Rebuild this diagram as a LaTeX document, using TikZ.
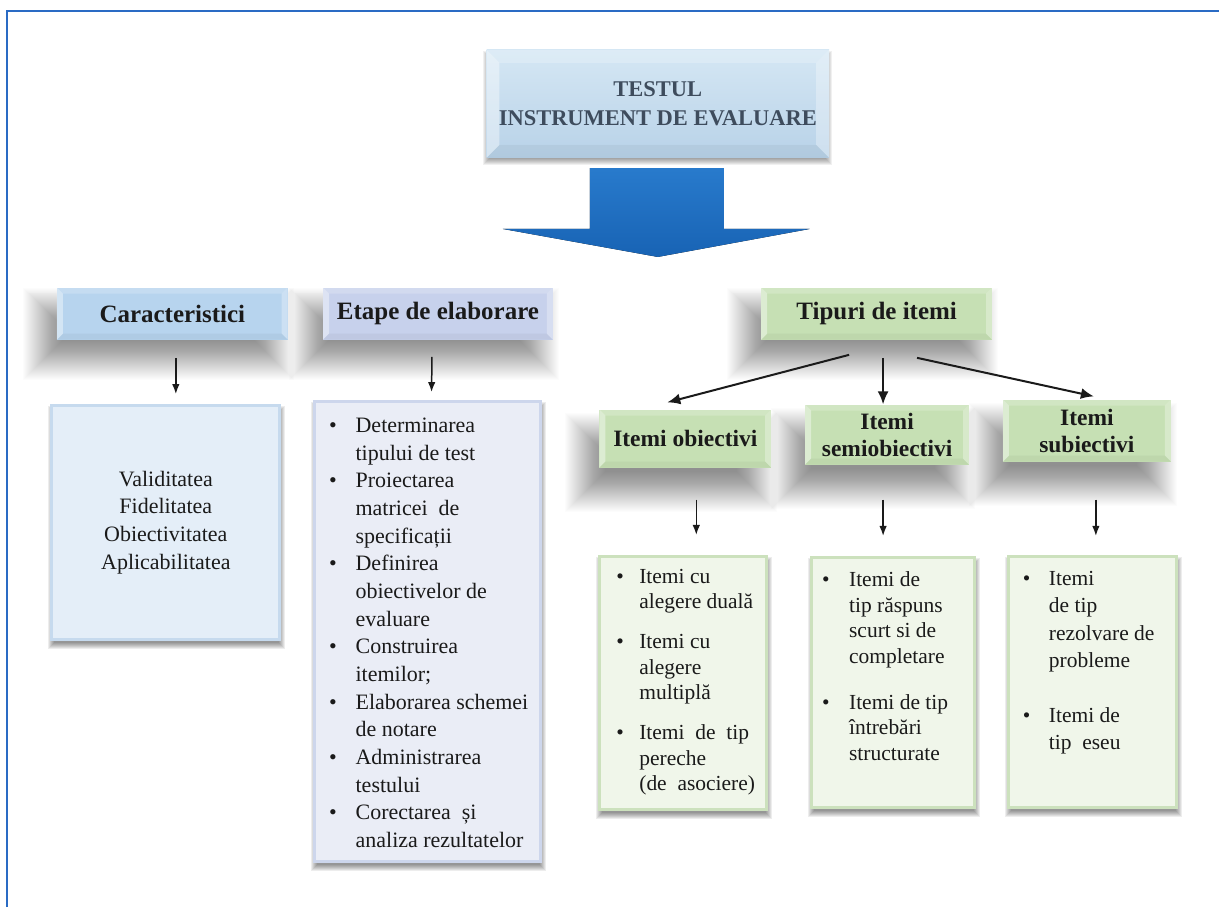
\documentclass[tikz,border=0pt]{standalone}
\usepackage{fontspec}
\setmainfont{Liberation Serif}
\usetikzlibrary{positioning,calc,arrows.meta,backgrounds}

\definecolor{framec}{HTML}{2A6BC4}
\definecolor{titletop}{HTML}{D5E7F4}
\definecolor{titlebot}{HTML}{B8D2E8}
\definecolor{titletext}{HTML}{3E4C5D}
\definecolor{arrowtop}{HTML}{2A7DCF}
\definecolor{arrowbot}{HTML}{1863B4}
\definecolor{carfill}{HTML}{B7D4EE}
\definecolor{etafill}{HTML}{C7D1EC}
\definecolor{tipfill}{HTML}{C6E0B4}
\definecolor{carin}{HTML}{E4EEF8}
\definecolor{carout}{HTML}{C6DAEE}
\definecolor{etain}{HTML}{EAEDF6}
\definecolor{etaout}{HTML}{CDD6EC}
\definecolor{tipin}{HTML}{F0F6EA}
\definecolor{tipout}{HTML}{CCE1BD}
\definecolor{inkc}{HTML}{1A1A1A}

% soft shadow under a node: node, dx, dy, spread, opacity of one layer
\newcommand{\softshadow}[5]{%
  \foreach \s in {-#4,...,#4}
    \fill[black, opacity=#5] ($(#1.north west)+(#2-\s,#3-\s)$) rectangle ($(#1.south east)+(#2+\s,#3+\s)$);
}

\begin{document}
\begin{tikzpicture}[x=1pt, y=-1pt,
    bevelbox/.style={path picture={
      \fill[white, opacity=0.4] (path picture bounding box.north west) -- (path picture bounding box.south west)
        -- ([xshift=#1, yshift=#1]path picture bounding box.south west) -- ([xshift=#1, yshift=-#1]path picture bounding box.north west) -- cycle;
      \fill[white, opacity=0.3] (path picture bounding box.north east) -- (path picture bounding box.south east)
        -- ([xshift=-#1, yshift=#1]path picture bounding box.south east) -- ([xshift=-#1, yshift=-#1]path picture bounding box.north east) -- cycle;
      \fill[white, opacity=0.2] (path picture bounding box.north west) -- (path picture bounding box.north east)
        -- ([xshift=-#1, yshift=-#1]path picture bounding box.north east) -- ([xshift=#1, yshift=-#1]path picture bounding box.north west) -- cycle;
      \fill[black, opacity=0.04] (path picture bounding box.south west) -- (path picture bounding box.south east)
        -- ([xshift=-#1, yshift=#1]path picture bounding box.south east) -- ([xshift=#1, yshift=#1]path picture bounding box.south west) -- cycle;
    }},
    header/.style={fill=#1, bevelbox=6pt, inner sep=0pt, align=center, text=inkc,
      font=\fontsize{25}{28}\selectfont\bfseries},
    subhead/.style={header=tipfill, font=\fontsize{23.5}{27}\selectfont\bfseries},
    contbox/.style={fill=#1in, draw=#1out, line width=3pt, inner sep=0pt, text=inkc,
      font=\fontsize{22}{27.7}\selectfont},
    thinarrow/.style={-{Latex[length=10pt, width=7.5pt]}, line width=1.5pt, inkc},
    widearrow/.style={-{Latex[length=13pt, width=11pt]}, line width=2pt, inkc}]

    % title and big arrow
    \node[top color=titletop, bottom color=titlebot, bevelbox=13pt, minimum width=343pt, minimum height=108pt,
      inner sep=0pt, align=center, text=titletext, font=\fontsize{22.5}{29}\selectfont\bfseries]
      (title) at (658.5,104) {TESTUL\\INSTRUMENT DE EVALUARE};
    \fill[top color=arrowtop, bottom color=arrowbot]
      (title.south) ++(-68,10) -- ++(134,0) -- ++(0,61) -- ++(86,0) -- ++(-152,28) -- ++(-155,-28) -- ++(87,0) -- cycle;

    % headers
    \node[header=carfill, minimum width=231pt, minimum height=52pt] (carH) at (172.5,314) {Caracteristici};
    \node[header=etafill, minimum width=230pt, minimum height=52pt, right=35pt of carH] (etaH) {Etape de elaborare};
    \node[header=tipfill, minimum width=231pt, minimum height=52pt] (tipH) at (877.5,314) {Tipuri de itemi};

    % contents of the left columns
    \node[contbox=car, minimum width=228pt, minimum height=234pt, align=center] (carC) at (166,523)
      {Validitatea\\Fidelitatea\\Obiectivitatea\\Aplicabilitatea};
    \node[contbox=eta, minimum width=226pt, minimum height=460pt] (etaC) at (428,632)
      {\parbox[c][460pt][t]{197pt}{\vspace{11.6pt}\begin{tabular}{@{}p{26.5pt}@{}l@{}}
        \textbullet & Determinarea\\
                    & tipului de test\\
        \textbullet & Proiectarea\\
                    & matricei\ \ de\\
                    & specificații\\
        \textbullet & Definirea\\
                    & obiectivelor de\\
                    & evaluare\\
        \textbullet & Construirea\\
                    & itemilor;\\
        \textbullet & Elaborarea schemei\\
                    & de notare\\
        \textbullet & Administrarea\\
                    & testului\\
        \textbullet & Corectarea\ \ și\\
                    & analiza rezultatelor
      \end{tabular}}};

    \draw[thinarrow] ($(carH.south)+(3.5,18)$) -- ($(carC.north)+(10,-10)$);
    \draw[thinarrow] ($(etaH.south)+(-6,17)$) -- ($(etaC.north)+(4,-8)$);

    % item types
    \node[subhead, minimum width=172pt, minimum height=58pt] (obiH) at (686,439) {Itemi obiectivi};
    \node[subhead, minimum width=164pt, minimum height=60pt] (semH) at (888,435) {Itemi\\semiobiectivi};
    \node[subhead, minimum width=168pt, minimum height=62pt] (subH) at (1088,431) {Itemi\\subiectivi};

    \draw[widearrow] ($(tipH.south)+(-27.5,15)$) -- ($(obiH.north)+(-18,-7)$);
    \draw[widearrow] ($(tipH.south)+(6.5,18)$) -- ($(semH.north)+(-4,0)$);
    \draw[widearrow] ($(tipH.south)+(40.5,18)$) -- ($(subH.north)+(7,-3)$);

    \node[contbox=tip, minimum width=167pt, minimum height=253pt, font=\fontsize{21.5}{25.5}\selectfont] (obiC) at (683.5,683.5)
      {\parbox[c][253pt][t]{133pt}{\vspace{9pt}\begin{tabular}{@{}p{23pt}@{}l@{}}
        \textbullet & Itemi cu\\
                    & alegere duală\\[14.5pt]
        \textbullet & Itemi cu\\
                    & alegere\\
                    & multiplă\\[14.5pt]
        \textbullet & Itemi\ \ de\ \ tip\\
                    & pereche\\
                    & (de\ \ asociere)
      \end{tabular}}};
    \node[contbox=tip, minimum width=163pt, minimum height=250pt, font=\fontsize{21.5}{25.7}\selectfont] (semC) at (893.5,683)
      {\parbox[c][250pt][t]{141pt}{\vspace{11pt}\begin{tabular}{@{}p{27pt}@{}l@{}}
        \textbullet & Itemi de\\
                    & tip răspuns\\
                    & scurt si de\\
                    & completare\\[20pt]
        \textbullet & Itemi de tip\\
                    & întrebări\\
                    & structurate
      \end{tabular}}};
    \node[contbox=tip, minimum width=168pt, minimum height=251pt, font=\fontsize{21.5}{27.5}\selectfont] (subC) at (1094,682.5)
      {\parbox[c][251pt][t]{140pt}{\vspace{9.75pt}\begin{tabular}{@{}p{26pt}@{}l@{}}
        \textbullet & Itemi\\
                    & de tip\\
                    & rezolvare de\\
                    & probleme\\[27pt]
        \textbullet & Itemi de\\
                    & tip\ \ eseu
      \end{tabular}}};

    \draw[thinarrow] ($(obiH.south)+(11,32)$) -- ($(obiC.north)+(13.5,-20)$);
    \draw[thinarrow] ($(semH.south)+(-4,35)$) -- ($(semC.north)+(-9.5,-20)$);
    \draw[thinarrow] ($(subH.south)+(9,38)$) -- ($(subC.north)+(3,-19)$);

    % page, frame and shadows behind everything
    \begin{scope}[on background layer]
      \fill[white] (0,0) rectangle (1220,908);
      \softshadow{title}{0}{4}{3}{0.06}
      \softshadow{carH}{-14}{20}{20}{0.011}
      \softshadow{etaH}{-14}{20}{20}{0.011}
      \softshadow{tipH}{-14}{20}{20}{0.011}
      \softshadow{obiH}{-14}{24}{20}{0.011}
      \softshadow{semH}{-14}{24}{20}{0.011}
      \softshadow{subH}{-14}{24}{20}{0.011}
      \softshadow{carC}{1}{5}{3}{0.07}
      \softshadow{etaC}{1}{5}{3}{0.07}
      \softshadow{obiC}{1}{5}{3}{0.07}
      \softshadow{semC}{1}{5}{3}{0.07}
      \softshadow{subC}{1}{5}{3}{0.07}
      \draw[framec, line width=2.5pt] (7,908) -- (7,11) -- (1220,11);
    \end{scope}
\end{tikzpicture}
\end{document}
